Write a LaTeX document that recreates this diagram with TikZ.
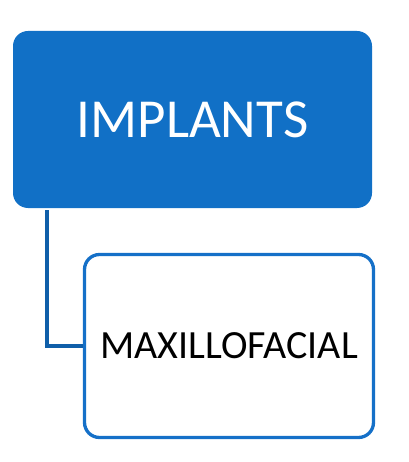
\documentclass[tikz,border=0pt]{standalone}
\usepackage{fontspec}
\setmainfont{Carlito}
\definecolor{topblue}{HTML}{1170C6}
\definecolor{boxblue}{HTML}{1570C8}
\definecolor{linkblue}{HTML}{105FA9}
\begin{document}
\begin{tikzpicture}[x=1pt,y=-1pt,
  topbox/.style={fill=topblue,draw=none,rounded corners=15pt,minimum width=359pt,minimum height=177pt,inner sep=0pt,text=white,font=\fontsize{55}{62}\selectfont},
  subbox/.style={fill=white,draw=boxblue,line width=3.3pt,rounded corners=15pt,minimum width=289pt,minimum height=183pt,inner sep=0pt,text=black,font=\fontsize{40}{46}\selectfont},
  link/.style={draw=linkblue,line width=3.3pt}]
\useasboundingbox (0,0) rectangle (408,462);
\node[topbox] (top) at (192.5,119.5) {IMPLANTS};
\node[subbox] (sub) at (229,346) {MAXILLOFACIAL};
\coordinate (start) at (47,210);
\draw[link] (start) |- (sub.west);
\end{tikzpicture}
\end{document}
